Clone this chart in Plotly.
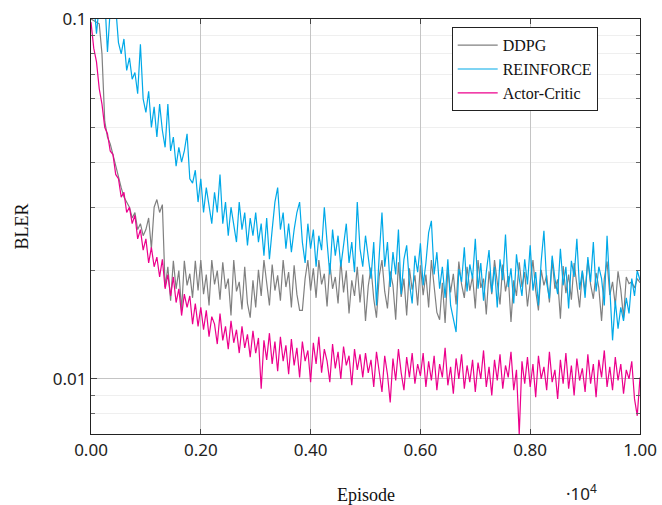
import plotly.graph_objects as go

episodes = list(range(0, 10001, 50))

ddpg = [
    0.100, 0.099, 0.098, 0.097, 0.080, 0.052, 0.047, 0.045, 0.042, 0.039,
    0.036, 0.034, 0.032, 0.031, 0.030, 0.028, 0.029, 0.026, 0.027, 0.025,
    0.026, 0.028, 0.023, 0.030, 0.0315, 0.029, 0.0305, 0.0180, 0.0205, 0.0165,
    0.0213, 0.0178, 0.0200, 0.0155, 0.0213, 0.0182, 0.0196, 0.0168, 0.0213, 0.0176,
    0.0214, 0.0172, 0.0195, 0.0160, 0.0214, 0.0183, 0.0200, 0.0166, 0.0211, 0.0178,
    0.0190, 0.0150, 0.0214, 0.0175, 0.0186, 0.0156, 0.0205, 0.0162, 0.0148, 0.0188,
    0.0158, 0.0201, 0.0170, 0.0214, 0.0181, 0.0160, 0.0208, 0.0176, 0.0194, 0.0165,
    0.0214, 0.0180, 0.0198, 0.0158, 0.0207, 0.0172, 0.0155, 0.0155, 0.0190, 0.0214,
    0.0176, 0.0203, 0.0168, 0.0214, 0.0183, 0.0196, 0.0159, 0.0210, 0.0178, 0.0192,
    0.0162, 0.0214, 0.0174, 0.0200, 0.0152, 0.0188, 0.0170, 0.0205, 0.0163, 0.0195,
    0.0145, 0.0181, 0.0204, 0.0167, 0.0148, 0.0193, 0.0214, 0.0175, 0.0157, 0.0199,
    0.0182, 0.0146, 0.0211, 0.0169, 0.0190, 0.0150, 0.0203, 0.0177, 0.0194, 0.0160,
    0.0207, 0.0171, 0.0195, 0.0158, 0.0214, 0.0180, 0.0153, 0.0146, 0.0185, 0.0143,
    0.0202, 0.0174, 0.0196, 0.0161, 0.0212, 0.0183, 0.0168, 0.0205, 0.0176, 0.0193,
    0.0157, 0.0214, 0.0179, 0.0190, 0.0151, 0.0199, 0.0172, 0.0214, 0.0184, 0.0161,
    0.0208, 0.0175, 0.0193, 0.0144, 0.0188, 0.0170, 0.0211, 0.0180, 0.0198, 0.0159,
    0.0185, 0.0214, 0.0176, 0.0155, 0.0201, 0.0182, 0.0194, 0.0163, 0.0214, 0.0178,
    0.0189, 0.0147, 0.0206, 0.0173, 0.0195, 0.0166, 0.0210, 0.0181, 0.0158, 0.0199,
    0.0175, 0.0214, 0.0183, 0.0167, 0.0197, 0.0179, 0.0145, 0.0190, 0.0212, 0.0171,
    0.0186, 0.0160, 0.0199, 0.0177, 0.0148, 0.0192, 0.0184, 0.0186, 0.0179, 0.0190,
    0.0185,
]

reinforce = [
    0.108, 0.112, 0.091, 0.110, 0.104, 0.115, 0.081, 0.106, 0.101, 0.108,
    0.086, 0.080, 0.088, 0.072, 0.078, 0.068, 0.071, 0.062, 0.085, 0.060,
    0.055, 0.063, 0.050, 0.057, 0.047, 0.058, 0.049, 0.044, 0.058, 0.043,
    0.047, 0.039, 0.044, 0.040, 0.043, 0.048, 0.036, 0.035, 0.038, 0.031,
    0.036, 0.029, 0.034, 0.030, 0.027, 0.033, 0.029, 0.037, 0.027, 0.031,
    0.025, 0.030, 0.027, 0.024, 0.031, 0.026, 0.029, 0.0235, 0.028, 0.025,
    0.029, 0.024, 0.027, 0.022, 0.028, 0.0215, 0.026, 0.031, 0.034, 0.026,
    0.029, 0.023, 0.027, 0.0225, 0.026, 0.029, 0.031, 0.024, 0.021, 0.027,
    0.023, 0.026, 0.0205, 0.025, 0.0228, 0.030, 0.024, 0.0195, 0.026, 0.022,
    0.025, 0.0205, 0.0235, 0.027, 0.021, 0.024, 0.0198, 0.031, 0.023, 0.0205,
    0.025, 0.0215, 0.019, 0.024, 0.016, 0.022, 0.029, 0.0205, 0.024, 0.018,
    0.0225, 0.0195, 0.026, 0.0172, 0.0215, 0.0235, 0.0185, 0.0162, 0.022, 0.0198,
    0.0238, 0.0182, 0.021, 0.0255, 0.0275, 0.0195, 0.0225, 0.0178, 0.0205, 0.0168,
    0.0215, 0.0160, 0.0145, 0.0135, 0.0202, 0.0186, 0.0232, 0.0175, 0.0208, 0.0190,
    0.0245, 0.0178, 0.0210, 0.0165, 0.0198, 0.0228, 0.0174, 0.0205, 0.0158, 0.0215,
    0.0188, 0.0252, 0.0180, 0.0203, 0.0162, 0.0222, 0.0190, 0.0170, 0.0215, 0.0183,
    0.0235, 0.0176, 0.0198, 0.0160, 0.0212, 0.0258, 0.0185, 0.0167, 0.0220, 0.0190,
    0.0172, 0.0230, 0.0182, 0.0205, 0.0157, 0.0213, 0.0192, 0.0245, 0.0177, 0.0200,
    0.0168, 0.0218, 0.0186, 0.0240, 0.0175, 0.0205, 0.0190, 0.0160, 0.0250, 0.0175,
    0.0128, 0.0165, 0.0138, 0.0158, 0.0145, 0.0168, 0.0152, 0.0190, 0.0170, 0.0200,
    0.0188,
]

actor_critic = [
    0.098, 0.083, 0.076, 0.064, 0.058, 0.050, 0.048, 0.043, 0.042, 0.037,
    0.036, 0.032, 0.033, 0.029, 0.030, 0.027, 0.0285, 0.0245, 0.026, 0.0228,
    0.0245, 0.0210, 0.0232, 0.0205, 0.0218, 0.0192, 0.0215, 0.0178, 0.0195, 0.0170,
    0.0192, 0.0163, 0.0178, 0.0150, 0.0172, 0.0158, 0.0170, 0.0142, 0.0162, 0.0140,
    0.0158, 0.0137, 0.0155, 0.0131, 0.0149, 0.0142, 0.0125, 0.0152, 0.0128, 0.0140,
    0.0121, 0.0145, 0.0126, 0.0137, 0.0118, 0.0140, 0.0122, 0.0133, 0.0115, 0.0136,
    0.0118, 0.0130, 0.0094, 0.0128, 0.0113, 0.0134, 0.0110, 0.0127, 0.0105, 0.0131,
    0.0112, 0.0124, 0.0103, 0.0129, 0.0109, 0.0122, 0.0101, 0.0127, 0.0112, 0.0120,
    0.0098, 0.0126, 0.0110, 0.0131, 0.0104, 0.0121, 0.0112, 0.0098, 0.0125, 0.0107,
    0.0119, 0.0100, 0.0123, 0.0109, 0.0116, 0.0096, 0.0121, 0.0106, 0.0117, 0.0101,
    0.0118, 0.0104, 0.0113, 0.0095, 0.0119, 0.0105, 0.0092, 0.0116, 0.0103, 0.0086,
    0.0114, 0.0099, 0.0121, 0.0104, 0.0093, 0.0115, 0.0101, 0.0118, 0.0097, 0.0110,
    0.0102, 0.0118, 0.0095, 0.0112, 0.0099, 0.0116, 0.0093, 0.0110, 0.0101, 0.0122,
    0.0096, 0.0108, 0.0091, 0.0114, 0.0100, 0.0117, 0.0094, 0.0109, 0.0098, 0.0113,
    0.0092, 0.0111, 0.0100, 0.0120, 0.0095, 0.0108, 0.0090, 0.0113, 0.0099, 0.0117,
    0.0094, 0.0109, 0.0101, 0.0119, 0.0093, 0.0106, 0.0070, 0.0112, 0.0097, 0.0115,
    0.0095, 0.0110, 0.0089, 0.0116, 0.0100, 0.0108, 0.0093, 0.0119, 0.0098, 0.0106,
    0.0088, 0.0113, 0.0097, 0.0118, 0.0094, 0.0109, 0.0090, 0.0114, 0.0099, 0.0107,
    0.0092, 0.0117, 0.0097, 0.0110, 0.0089, 0.0113, 0.0101, 0.0120, 0.0095, 0.0108,
    0.0093, 0.0115, 0.0099, 0.0110, 0.0091, 0.0106, 0.0100, 0.0112, 0.0088, 0.0079,
    0.0101,
]

series_names = ["DDPG", "REINFORCE", "Actor-Critic"]
series_values = [ddpg, reinforce, actor_critic]
series_colors = ["#808080", "#00a9e8", "#ec008c"]

x_tick_vals = [0, 2000, 4000, 6000, 8000, 10000]
x_tick_text = ["0.00", "0.20", "0.40", "0.60", "0.80", "1.00"]
y_tick_vals = [0.01, 0.1]
y_tick_text = ["0.01", "0.1"]
y_minor_vals = [0.008, 0.009, 0.02, 0.03, 0.04, 0.05, 0.06, 0.07, 0.08, 0.09]

fig = go.Figure()
for name, vals, col in zip(series_names, series_values, series_colors):
    fig.add_trace(go.Scatter(x=episodes, y=vals, mode="lines", name=name,
                             line=dict(color=col, width=1.2)))

tick_font = dict(family="Noto Sans", size=17, color="#222")
serif = "Liberation Serif"

fig.update_layout(
    width=662, height=505,
    margin=dict(l=91, r=22, t=19, b=71, autoexpand=False),
    paper_bgcolor="white", plot_bgcolor="white",
    showlegend=True,
    legend=dict(x=0.657, y=0.98, xanchor="left", yanchor="top",
                bgcolor="white", bordercolor="#222", borderwidth=1,
                font=dict(family=serif, size=16, color="#111"),
                tracegroupgap=0, itemwidth=40),
    xaxis=dict(range=[0, 10000], tickvals=x_tick_vals, ticktext=x_tick_text,
               tickfont=tick_font, ticks="inside", ticklen=5, tickcolor="#444",
               showline=True, linecolor="#222", linewidth=1.2, mirror="ticks",
               showgrid=True, gridcolor="#c4c4c4", gridwidth=1, zeroline=False,
               automargin=False),
    yaxis=dict(type="log", range=[-2.153, -1.0], tickvals=y_tick_vals, ticktext=y_tick_text,
               tickfont=tick_font, ticks="inside", ticklen=6, tickcolor="#444",
               showline=True, linecolor="#222", linewidth=1.2, mirror="ticks",
               showgrid=True, gridcolor="#c4c4c4", gridwidth=1, zeroline=False,
               automargin=False,
               minor=dict(tickvals=y_minor_vals, ticks="inside", ticklen=4, tickcolor="#666",
                          showgrid=True, gridcolor="#efefef", gridwidth=1)),
    annotations=[
        dict(text="Episode", x=0.5, y=-0.146, xref="paper", yref="paper",
             xanchor="center", yanchor="middle", showarrow=False,
             font=dict(family=serif, size=18, color="#111")),
        dict(text="BLER", x=-0.1257, y=0.5, xref="paper", yref="paper",
             xanchor="center", yanchor="middle", showarrow=False, textangle=-90,
             font=dict(family=serif, size=18, color="#111")),
        dict(text="·10<sup>4</sup>", x=0.894, y=-0.14, xref="paper", yref="paper",
             xanchor="center", yanchor="middle", showarrow=False,
             font=dict(family="Noto Sans", size=17, color="#222")),
    ],
)

fig.write_html("out.html")
